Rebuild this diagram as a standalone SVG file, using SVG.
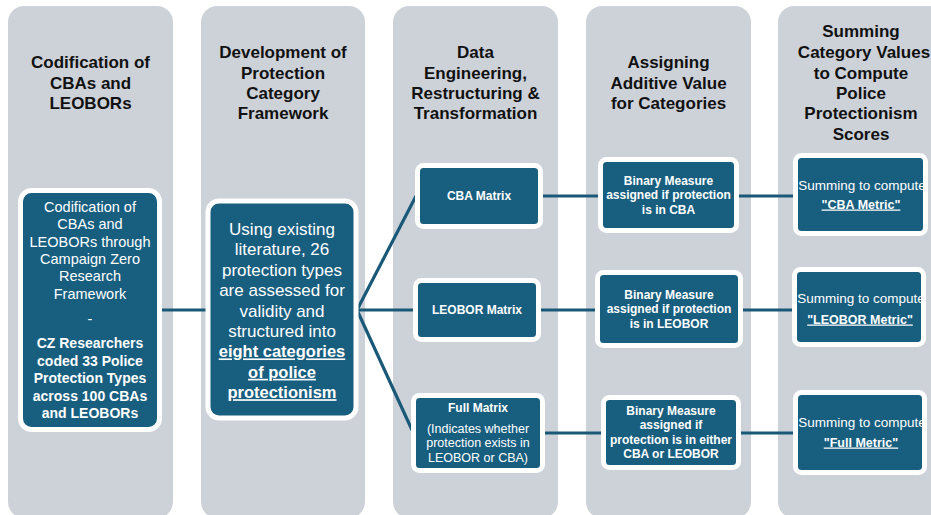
<svg xmlns="http://www.w3.org/2000/svg" width="931" height="515" viewBox="0 0 931 515">
  <style>
    .lane { fill: #cdd2d9; }
    .node { fill: #185e7f; stroke: #ffffff; stroke-width: 5; }
    .title { font-family: "Liberation Sans", Arial, sans-serif; font-weight: bold; font-size: 17px; fill: #111111; text-anchor: middle; }
    .t { font-family: "Liberation Sans", Arial, sans-serif; fill: #ffffff; text-anchor: middle; }
    .b { font-weight: bold; }
    .u { text-decoration: underline; }
    .link { stroke: #1a5878; stroke-width: 3.2; fill: none; }
  </style>

  <!-- stage lanes -->
  <g id="lanes">
    <rect class="lane" x="8" y="6" width="165" height="512" rx="16"/>
    <rect class="lane" x="201" y="6" width="164" height="512" rx="16"/>
    <rect class="lane" x="393" y="6" width="165" height="512" rx="16"/>
    <rect class="lane" x="586" y="6" width="165" height="512" rx="16"/>
    <rect class="lane" x="778" y="6" width="170" height="512" rx="16"/>
  </g>

  <!-- stage headings -->
  <g id="headings">
    <text class="title" x="90.5" y="68">Codification of</text>
    <text class="title" x="90.5" y="88.5">CBAs and</text>
    <text class="title" x="90.5" y="109">LEOBORs</text>

    <text class="title" x="283" y="58">Development of</text>
    <text class="title" x="283" y="78.5">Protection</text>
    <text class="title" x="283" y="99">Category</text>
    <text class="title" x="283" y="119">Framework</text>

    <text class="title" x="475.5" y="58">Data</text>
    <text class="title" x="475.5" y="78.5">Engineering,</text>
    <text class="title" x="475.5" y="99">Restructuring &amp;</text>
    <text class="title" x="475.5" y="119">Transformation</text>

    <text class="title" x="668.5" y="68">Assigning</text>
    <text class="title" x="668.5" y="88.5">Additive Value</text>
    <text class="title" x="668.5" y="109">for Categories</text>

    <text class="title" x="861" y="37">Summing</text>
    <text class="title" x="864" y="58">Category Values</text>
    <text class="title" x="861" y="78.5">to Compute</text>
    <text class="title" x="861" y="99">Police</text>
    <text class="title" x="861" y="119">Protectionism</text>
    <text class="title" x="861" y="140">Scores</text>
  </g>

  <!-- connectors -->
  <g id="connectors">
    <line class="link" x1="160" y1="310" x2="207" y2="310"/>
    <line class="link" x1="357" y1="310" x2="416" y2="196"/>
    <line class="link" x1="357" y1="310" x2="414" y2="310"/>
    <line class="link" x1="357" y1="310" x2="412" y2="430"/>
    <line class="link" x1="541" y1="196" x2="600" y2="196"/>
    <line class="link" x1="539" y1="310" x2="597" y2="310"/>
    <line class="link" x1="543" y1="433" x2="603" y2="433"/>
    <line class="link" x1="737" y1="196" x2="795" y2="196"/>
    <line class="link" x1="741" y1="310" x2="794" y2="310"/>
    <line class="link" x1="739" y1="433" x2="795" y2="433"/>
  </g>

  <g id="codification">
    <rect class="node" x="20.5" y="190.5" width="139" height="239" rx="11"/>
    <g class="t" font-size="14.5">
      <text x="90" y="212">Codification of</text>
      <text x="90" y="229.3">CBAs and</text>
      <text x="90" y="246.6">LEOBORs through</text>
      <text x="90" y="263.9">Campaign Zero</text>
      <text x="90" y="281.2">Research</text>
      <text x="90" y="298.5">Framework</text>
      <text x="90" y="324">-</text>
    </g>
    <g class="t b" font-size="14">
      <text x="90" y="348">CZ Researchers</text>
      <text x="90" y="365.6">coded 33 Police</text>
      <text x="90" y="383.2">Protection Types</text>
      <text x="90" y="400.8">across 100 CBAs</text>
      <text x="90" y="418.4">and LEOBORs</text>
    </g>
  </g>

  <g id="framework">
    <rect class="node" x="208" y="201" width="148" height="217" rx="11"/>
    <g class="t" font-size="17">
      <text x="282" y="235">Using existing</text>
      <text x="282" y="255.4">literature, 26</text>
      <text x="282" y="275.8">protection types</text>
      <text x="282" y="296.2">are assessed for</text>
      <text x="282" y="316.6">validity and</text>
      <text x="282" y="337">structured into</text>
      <text class="b u" x="282" y="357.4" font-size="16.5">eight categories</text>
      <text class="b u" x="282" y="377.8" font-size="16.5">of police</text>
      <text class="b u" x="282" y="398.2" font-size="16.5">protectionism</text>
    </g>
  </g>

  <g id="cba-matrix">
    <rect class="node" x="417.5" y="165.5" width="123" height="61" rx="6"/>
    <text class="t b" x="479" y="200" font-size="12">CBA Matrix</text>
  </g>

  <g id="leobor-matrix">
    <rect class="node" x="415.5" y="280.5" width="123" height="59" rx="6"/>
    <text class="t b" x="477" y="314" font-size="12">LEOBOR Matrix</text>
  </g>

  <g id="full-matrix">
    <rect class="node" x="413.5" y="395.5" width="129" height="75" rx="6"/>
    <g class="t" font-size="12.5">
      <text class="b" x="478" y="412" font-size="12">Full Matrix</text>
      <text x="478" y="432.5">(Indicates whether</text>
      <text x="478" y="447">protection exists in</text>
      <text x="478" y="461.5">LEOBOR or CBA)</text>
    </g>
  </g>

  <g id="binary-cba">
    <rect class="node" x="600.5" y="159.5" width="136" height="71" rx="6"/>
    <g class="t b" font-size="12">
      <text x="668.5" y="185">Binary Measure</text>
      <text x="668.5" y="199.3">assigned if protection</text>
      <text x="668.5" y="213.6">is in CBA</text>
    </g>
  </g>

  <g id="binary-leobor">
    <rect class="node" x="597.5" y="272.5" width="143" height="73" rx="6"/>
    <g class="t b" font-size="12">
      <text x="669" y="299">Binary Measure</text>
      <text x="669" y="313.3">assigned if protection</text>
      <text x="669" y="327.6">is in LEOBOR</text>
    </g>
  </g>

  <g id="binary-either">
    <rect class="node" x="603.5" y="397.5" width="135" height="70" rx="6"/>
    <g class="t b" font-size="12">
      <text x="671" y="415">Binary Measure</text>
      <text x="671" y="429.3">assigned if</text>
      <text x="671" y="443.6">protection is in either</text>
      <text x="671" y="457.9">CBA or LEOBOR</text>
    </g>
  </g>

  <g id="cba-metric">
    <rect class="node" x="795.5" y="155.5" width="130" height="78" rx="6"/>
    <text class="t" x="862" y="189.5" font-size="13.5">Summing to compute</text>
    <text class="t b u" x="861" y="208.5" font-size="12.5">"CBA Metric"</text>
  </g>

  <g id="leobor-metric">
    <rect class="node" x="794.5" y="269.5" width="129" height="75" rx="6"/>
    <text class="t" x="861" y="302.5" font-size="13.5">Summing to compute</text>
    <text class="t b u" x="860" y="323.5" font-size="12.5">"LEOBOR Metric"</text>
  </g>

  <g id="full-metric">
    <rect class="node" x="795.5" y="392.5" width="129" height="80" rx="6"/>
    <text class="t" x="862" y="426.5" font-size="13.5">Summing to compute</text>
    <text class="t b u" x="861" y="446.5" font-size="12.5">"Full Metric"</text>
  </g>
</svg>
